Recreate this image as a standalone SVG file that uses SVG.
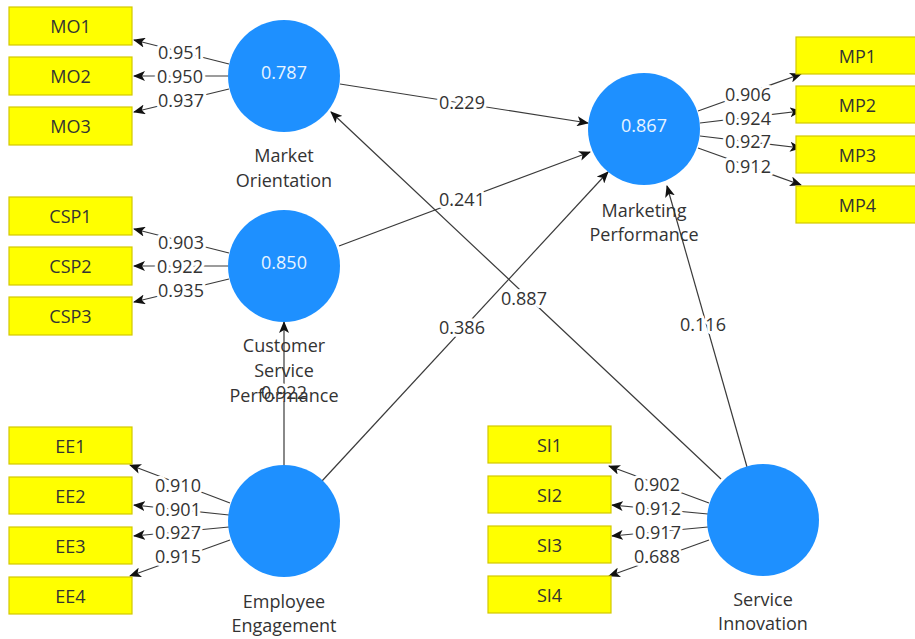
<svg xmlns="http://www.w3.org/2000/svg" width="915" height="639" viewBox="0 0 915 639">
<style>
  text { font-family: "Open Sans", "Noto Sans", "DejaVu Sans", sans-serif; font-size: 18px; text-anchor: middle; dominant-baseline: central; }
  .box { fill: #ffff00; stroke: #d2c800; stroke-width: 1.2; }
  .btxt { fill: #333333; }
  .lv { fill: #1e90ff; }
  .lvval { fill: #e8f4ff; }
  .lvname { fill: #333333; }
  .cn { stroke: #3a3a3a; stroke-width: 1.2; fill: none; marker-end: url(#ah); }
  .lbl { fill: #333333; stroke: #ffffff; stroke-width: 6; stroke-linejoin: round; paint-order: stroke; }
</style>
<defs>
  <marker id="ah" markerUnits="userSpaceOnUse" markerWidth="12" markerHeight="10" refX="11" refY="5" orient="auto">
    <path d="M0,0 L12,5 L0,10 L3,5 z" fill="#111111"/>
  </marker>
</defs>
<rect width="915" height="639" fill="#ffffff"/>

<g id="connectors">
  <!-- Market Orientation indicators -->
  <line class="cn" x1="229" y1="64" x2="134" y2="40"/>
  <line class="cn" x1="228" y1="76" x2="134" y2="76"/>
  <line class="cn" x1="229" y1="89" x2="134" y2="112"/>
  <text class="lbl" x="181" y="52">0.951</text>
  <text class="lbl" x="180" y="76">0.950</text>
  <text class="lbl" x="181" y="100">0.937</text>
  <!-- CSP indicators -->
  <line class="cn" x1="229" y1="253" x2="134" y2="229"/>
  <line class="cn" x1="228" y1="266" x2="134" y2="266"/>
  <line class="cn" x1="229" y1="279" x2="134" y2="302"/>
  <text class="lbl" x="181" y="242">0.903</text>
  <text class="lbl" x="180" y="266">0.922</text>
  <text class="lbl" x="181" y="290">0.935</text>
  <!-- EE indicators -->
  <line class="cn" x1="230" y1="503" x2="130" y2="465"/>
  <line class="cn" x1="229" y1="515" x2="134" y2="505"/>
  <line class="cn" x1="229" y1="527" x2="134" y2="536"/>
  <line class="cn" x1="230" y1="540" x2="130" y2="576"/>
  <text class="lbl" x="178" y="485">0.910</text>
  <text class="lbl" x="178" y="509">0.901</text>
  <text class="lbl" x="178" y="532">0.927</text>
  <text class="lbl" x="178" y="556">0.915</text>
  <!-- SI indicators -->
  <line class="cn" x1="709" y1="503" x2="609" y2="466"/>
  <line class="cn" x1="708" y1="514" x2="612" y2="505"/>
  <line class="cn" x1="708" y1="527" x2="612" y2="536"/>
  <line class="cn" x1="709" y1="540" x2="609" y2="576"/>
  <text class="lbl" x="657" y="484">0.902</text>
  <text class="lbl" x="658" y="508">0.912</text>
  <text class="lbl" x="658" y="532">0.917</text>
  <text class="lbl" x="657" y="556">0.688</text>
  <!-- MP indicators -->
  <line class="cn" x1="698" y1="111" x2="801" y2="74"/>
  <line class="cn" x1="700" y1="123" x2="801" y2="111"/>
  <line class="cn" x1="700" y1="136" x2="801" y2="148"/>
  <line class="cn" x1="698" y1="148" x2="801" y2="185"/>
  <text class="lbl" x="748" y="94">0.906</text>
  <text class="lbl" x="748" y="118">0.924</text>
  <text class="lbl" x="748" y="141">0.927</text>
  <text class="lbl" x="748" y="166">0.912</text>
  <!-- structural paths -->
  <line class="cn" x1="340" y1="84" x2="588" y2="123"/>
  <line class="cn" x1="339" y1="246" x2="590" y2="152"/>
  <line class="cn" x1="322" y1="481" x2="608" y2="172"/>
  <line class="cn" x1="721" y1="479" x2="331" y2="112"/>
  <line class="cn" x1="747" y1="467" x2="667" y2="186"/>
  <line class="cn" x1="284" y1="467" x2="284" y2="322"/>
  <text class="lbl" x="462" y="102">0.229</text>
  <text class="lbl" x="462" y="199">0.241</text>
  <text class="lbl" x="462" y="327">0.386</text>
  <text class="lbl" x="524" y="298">0.887</text>
  <text class="lbl" x="703" y="324">0.116</text>
  <text class="lbl" x="284" y="392">0.922</text>
</g>

<g id="MO1"><rect class="box" x="9" y="7" width="123" height="38"/><text class="btxt" x="70.5" y="26">MO1</text></g>
<g id="MO2"><rect class="box" x="9" y="57" width="123" height="38"/><text class="btxt" x="70.5" y="76">MO2</text></g>
<g id="MO3"><rect class="box" x="9" y="107" width="123" height="38"/><text class="btxt" x="70.5" y="126">MO3</text></g>

<g id="CSP1"><rect class="box" x="9" y="197" width="123" height="38"/><text class="btxt" x="70.5" y="216">CSP1</text></g>
<g id="CSP2"><rect class="box" x="9" y="247" width="123" height="38"/><text class="btxt" x="70.5" y="266">CSP2</text></g>
<g id="CSP3"><rect class="box" x="9" y="297" width="123" height="38"/><text class="btxt" x="70.5" y="316">CSP3</text></g>

<g id="EE1"><rect class="box" x="9" y="427" width="123" height="37"/><text class="btxt" x="70.5" y="445.5">EE1</text></g>
<g id="EE2"><rect class="box" x="9" y="477" width="123" height="37"/><text class="btxt" x="70.5" y="495.5">EE2</text></g>
<g id="EE3"><rect class="box" x="9" y="527" width="123" height="37"/><text class="btxt" x="70.5" y="545.5">EE3</text></g>
<g id="EE4"><rect class="box" x="9" y="577" width="123" height="37"/><text class="btxt" x="70.5" y="595.5">EE4</text></g>

<g id="SI1"><rect class="box" x="488" y="426" width="123" height="37"/><text class="btxt" x="549.5" y="444.5">SI1</text></g>
<g id="SI2"><rect class="box" x="488" y="476" width="123" height="37"/><text class="btxt" x="549.5" y="494.5">SI2</text></g>
<g id="SI3"><rect class="box" x="488" y="526" width="123" height="37"/><text class="btxt" x="549.5" y="544.5">SI3</text></g>
<g id="SI4"><rect class="box" x="488" y="576" width="123" height="37"/><text class="btxt" x="549.5" y="594.5">SI4</text></g>

<g id="MP1"><rect class="box" x="796" y="37" width="123" height="37"/><text class="btxt" x="857.5" y="55.5">MP1</text></g>
<g id="MP2"><rect class="box" x="796" y="86" width="123" height="37"/><text class="btxt" x="857.5" y="104.5">MP2</text></g>
<g id="MP3"><rect class="box" x="796" y="136" width="123" height="37"/><text class="btxt" x="857.5" y="154.5">MP3</text></g>
<g id="MP4"><rect class="box" x="796" y="186" width="123" height="37"/><text class="btxt" x="857.5" y="204.5">MP4</text></g>

<g id="MarketOrientation">
  <circle class="lv" cx="284" cy="76" r="56"/>
  <text class="lvval" x="284" y="72">0.787</text>
  <text class="lvname" x="284" y="155">Market</text>
  <text class="lvname" x="284" y="180">Orientation</text>
</g>
<g id="CustomerServicePerformance">
  <circle class="lv" cx="284" cy="266" r="56"/>
  <text class="lvval" x="284" y="262">0.850</text>
  <text class="lvname" x="284" y="345">Customer</text>
  <text class="lvname" x="284" y="370">Service</text>
  <text class="lvname" x="284" y="395">Performance</text>
</g>
<g id="EmployeeEngagement">
  <circle class="lv" cx="284" cy="521" r="56"/>
  <text class="lvname" x="284" y="601">Employee</text>
  <text class="lvname" x="284" y="625">Engagement</text>
</g>
<g id="ServiceInnovation">
  <circle class="lv" cx="763" cy="520" r="56"/>
  <text class="lvname" x="763" y="599">Service</text>
  <text class="lvname" x="763" y="623">Innovation</text>
</g>
<g id="MarketingPerformance">
  <circle class="lv" cx="644" cy="129" r="56"/>
  <text class="lvval" x="644" y="125">0.867</text>
  <text class="lvname" x="644" y="210">Marketing</text>
  <text class="lvname" x="644" y="234">Performance</text>
</g>
</svg>
